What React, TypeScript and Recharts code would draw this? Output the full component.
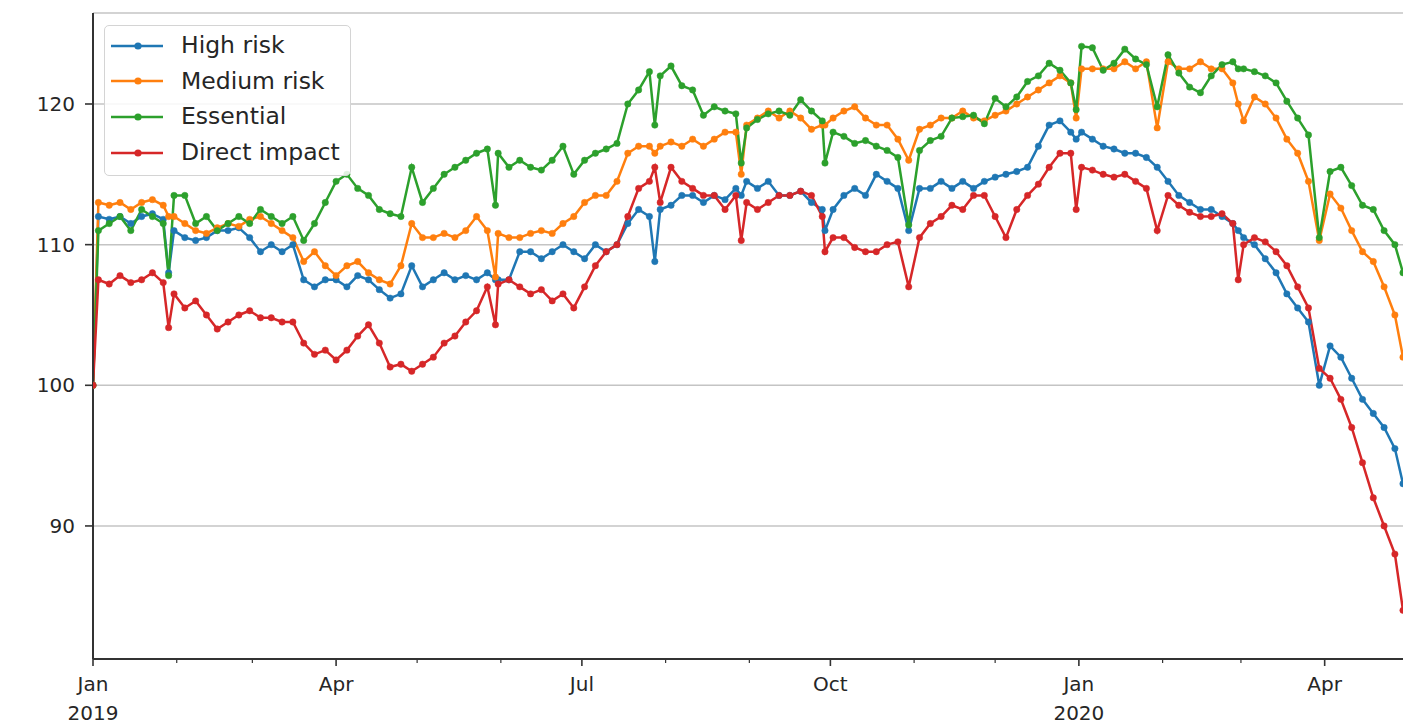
import React from "react";
import { LineChart, Line, XAxis, YAxis, CartesianGrid, Legend } from "recharts";

// days since 2019-01-01
const days = [
  0, 2, 6, 10, 14, 18, 22, 26, 28, 30, 34, 38, 42, 46, 50, 54, 58, 62, 66, 70,
  74, 78, 82, 86, 90, 94, 98, 102, 106, 110, 114, 118, 122, 126, 130, 134, 138, 142, 146, 149,
  150, 154, 158, 162, 166, 170, 174, 178, 182, 186, 190, 194, 198, 202, 206, 208, 210, 214, 218, 222,
  226, 230, 234, 238, 240, 242, 246, 250, 254, 258, 262, 266, 270, 271, 274, 278, 282, 286, 290, 294,
  298, 302, 306, 310, 314, 318, 322, 326, 330, 334, 338, 342, 346, 350, 354, 358, 362, 364, 366, 370,
  374, 378, 382, 386, 390, 394, 398, 402, 406, 410, 414, 418, 422, 424, 426, 430, 434, 438, 442, 446,
  450, 454, 458, 462, 466, 470, 474, 478, 482, 485,
];

const highRisk = [
  100, 112, 111.8, 112, 111.5, 112, 112.2, 111.8, 108, 111, 110.5, 110.3, 110.5, 111, 111, 111.2, 110.5, 109.5, 110, 109.5,
  110, 107.5, 107, 107.5, 107.5, 107, 107.8, 107.5, 106.8, 106.2, 106.5, 108.5, 107, 107.5, 108, 107.5, 107.8, 107.5, 108, 107.5,
  107.5, 107.5, 109.5, 109.5, 109, 109.5, 110, 109.5, 109, 110, 109.5, 110, 111.5, 112.5, 112, 108.8, 112.5, 112.8, 113.5, 113.5,
  113, 113.5, 113.2, 114, 113.5, 114.5, 114, 114.5, 113.5, 113.5, 113.8, 113, 112.5, 111, 112.5, 113.5, 114, 113.5, 115, 114.5,
  114, 111, 114, 114, 114.5, 114, 114.5, 114, 114.5, 114.8, 115, 115.2, 115.5, 117, 118.5, 118.8, 118, 117.5, 118, 117.5,
  117, 116.8, 116.5, 116.5, 116.2, 115.5, 114.5, 113.5, 113, 112.5, 112.5, 112, 111.5, 111, 110.5, 110, 109, 108, 106.5, 105.5,
  104.5, 100, 102.8, 102, 100.5, 99, 98, 97, 95.5, 93,
];

const mediumRisk = [
  100, 113, 112.8, 113, 112.5, 113, 113.2, 112.8, 112, 112, 111.5, 111, 110.8, 111.2, 111.5, 111.3, 111.8, 112, 111.5, 111,
  110.5, 108.8, 109.5, 108.5, 107.8, 108.5, 108.8, 108, 107.5, 107.2, 108.5, 111.5, 110.5, 110.5, 110.8, 110.5, 111, 112, 111, 107.7,
  110.8, 110.5, 110.5, 110.8, 111, 110.8, 111.5, 112, 113, 113.5, 113.5, 114.5, 116.5, 117, 117, 116.5, 117, 117.3, 117, 117.5,
  117, 117.5, 118, 118, 115, 118.5, 119, 119.5, 119, 119.5, 119, 118.2, 118.5, 118.5, 119, 119.5, 119.8, 119, 118.5, 118.5,
  117.5, 116, 118.2, 118.5, 119, 119, 119.5, 119, 118.8, 119.2, 119.5, 120, 120.5, 121, 121.5, 122, 121.5, 119, 122.5, 122.5,
  122.5, 122.5, 123, 122.5, 123, 118.3, 123, 122.5, 122.5, 123, 122.5, 122.5, 121.5, 120, 118.8, 120.5, 120, 119, 117.5, 116.5,
  114.5, 110.3, 113.6, 112.6, 111, 109.5, 108.8, 107, 105, 102,
];

const essential = [
  100, 111, 111.5, 112, 111, 112.5, 112, 111.5, 107.8, 113.5, 113.5, 111.5, 112, 111, 111.5, 112, 111.5, 112.5, 112, 111.5,
  112, 110.3, 111.5, 113, 114.5, 115, 114, 113.5, 112.5, 112.2, 112, 115.5, 113, 114, 115, 115.5, 116, 116.5, 116.8, 112.8,
  116.5, 115.5, 116, 115.5, 115.3, 116, 117, 115, 116, 116.5, 116.8, 117.2, 120, 121, 122.3, 118.5, 122, 122.7, 121.3, 121,
  119.2, 119.8, 119.5, 119.3, 115.8, 118.3, 118.9, 119.3, 119.5, 119.2, 120.3, 119.5, 118.8, 115.8, 118, 117.7, 117.2, 117.4, 117, 116.7,
  116.2, 111.4, 116.7, 117.4, 117.7, 119, 119.1, 119.2, 118.6, 120.4, 119.8, 120.5, 121.6, 122, 122.9, 122.4, 121.5, 119.6, 124.1, 124,
  122.4, 122.9, 123.9, 123.2, 122.8, 119.8, 123.5, 122.2, 121.2, 120.8, 122, 122.8, 123, 122.5, 122.5, 122.3, 122, 121.5, 120.2, 119,
  117.8, 110.5, 115.2, 115.5, 114.2, 112.8, 112.5, 111, 110, 108,
];

const directImpact = [
  100, 107.5, 107.2, 107.8, 107.3, 107.5, 108, 107.3, 104.1, 106.5, 105.5, 106, 105, 104, 104.5, 105, 105.3, 104.8, 104.8, 104.5,
  104.5, 103, 102.2, 102.5, 101.8, 102.5, 103.5, 104.3, 103, 101.3, 101.5, 101, 101.5, 102, 103, 103.5, 104.5, 105.3, 107, 104.3,
  107.2, 107.5, 107, 106.5, 106.8, 106, 106.5, 105.5, 107, 108.5, 109.5, 110, 112, 114, 114.5, 115.5, 113, 115.5, 114.5, 114,
  113.5, 113.5, 112.5, 113.5, 110.3, 113, 112.5, 113, 113.5, 113.5, 113.8, 113.5, 112, 109.5, 110.5, 110.5, 109.8, 109.5, 109.5, 110,
  110.2, 107, 110.5, 111.5, 112, 112.8, 112.5, 113.5, 113.5, 112, 110.5, 112.5, 113.5, 114.3, 115.5, 116.5, 116.5, 112.5, 115.5, 115.3,
  115, 114.8, 115, 114.5, 114, 111, 113.5, 112.8, 112.3, 112, 112, 112.2, 111.5, 107.5, 110, 110.5, 110.2, 109.5, 108.5, 107,
  105.5, 101.2, 100.5, 99, 97, 94.5, 92, 90, 88, 84,
];

const seriesNames = ["High risk", "Medium risk", "Essential", "Direct impact"];
const seriesKeys = ["high", "medium", "essential", "direct"];
const seriesColors = ["#1f77b4", "#ff7f0e", "#2ca02c", "#d62728"];

const monthTicks = [0, 31, 59, 90, 120, 151, 181, 212, 243, 273, 304, 334, 365, 396, 425, 456];
const quarterTicks = [0, 90, 181, 273, 365, 456];
const quarterLabels = ["Jan\n2019", "Apr", "Jul", "Oct", "Jan\n2020", "Apr"];
const yTicks = [90, 100, 110, 120];

const FONT = "'DejaVu Sans', sans-serif";
const INK = "#262626";
const SPINE = "#333333";

const data = days.map((d, i) => ({
  day: d,
  high: highRisk[i],
  medium: mediumRisk[i],
  essential: essential[i],
  direct: directImpact[i],
}));

function DateTick(props: any) {
  const { x, y, payload } = props;
  const i = quarterTicks.indexOf(payload.value);
  const major = i >= 0;
  return (
    <g>
      <line
        x1={x}
        x2={x}
        y1={y}
        y2={y + (major ? 7 : 4)}
        stroke={SPINE}
        strokeWidth={major ? 1.6 : 1.2}
      />
      {major &&
        quarterLabels[i].split("\n").map((t, j) => (
          <text
            key={j}
            x={x}
            y={y + 32 + j * 29}
            textAnchor="middle"
            fontSize={20}
            fontFamily={FONT}
            fill={INK}
          >
            {t}
          </text>
        ))}
    </g>
  );
}

function LegendBox() {
  return (
    <div
      style={{
        background: "rgba(255,255,255,0.85)",
        border: "1px solid #d4d4d4",
        borderRadius: 5,
        padding: "2px 10px 5px 6px",
        fontFamily: FONT,
        fontSize: 23.5,
        color: INK,
        lineHeight: 1,
      }}
    >
      {seriesNames.map((name, i) => (
        <div key={name} style={{ display: "flex", alignItems: "center", height: 35.6 }}>
          <svg width={52} height={12} style={{ marginRight: 18 }}>
            <line x1={0} x2={52} y1={6} y2={6} stroke={seriesColors[i]} strokeWidth={2.4} />
            <circle cx={27} cy={6} r={3.6} fill={seriesColors[i]} />
          </svg>
          <span>{name}</span>
        </div>
      ))}
    </div>
  );
}

export default function App() {
  return (
    <div style={{ position: "absolute", left: 0, top: 0, background: "#fff" }}>
      <LineChart width={1403} height={728} data={data} margin={{ top: 13, right: 0, bottom: 0, left: 0 }}>
        <CartesianGrid vertical={false} stroke="#c4c4c4" strokeWidth={1.5} />
        <XAxis
          dataKey="day"
          type="number"
          domain={[0, 485]}
          ticks={monthTicks}
          interval={0}
          tick={<DateTick />}
          tickLine={false}
          tickSize={0}
          tickMargin={0}
          height={69}
          allowDataOverflow
          axisLine={{ stroke: SPINE, strokeWidth: 2 }}
        />
        <XAxis
          xAxisId="top"
          orientation="top"
          dataKey="day"
          type="number"
          domain={[0, 485]}
          height={0}
          tick={false}
          tickLine={false}
          axisLine={{ stroke: SPINE, strokeWidth: 2 }}
        />
        <YAxis
          type="number"
          domain={[80.54, 126.47]}
          ticks={yTicks}
          allowDataOverflow
          width={93}
          tickSize={8}
          tickMargin={10}
          tick={{ fontSize: 20, fontFamily: FONT, fill: INK }}
          tickLine={{ stroke: SPINE, strokeWidth: 1.6 }}
          axisLine={{ stroke: SPINE, strokeWidth: 2 }}
        />
        <Legend
          layout="vertical"
          align="center"
          verticalAlign="middle"
          content={<LegendBox />}
          wrapperStyle={{ left: 104, top: 25, width: "auto", height: "auto" }}
        />
        {seriesKeys.map((k, i) => (
          <Line
            key={k}
            type="linear"
            dataKey={k}
            name={seriesNames[i]}
            stroke={seriesColors[i]}
            strokeWidth={2.5}
            dot={{ r: 3.2, fill: seriesColors[i], stroke: seriesColors[i], strokeWidth: 0.5 }}
            activeDot={false}
            isAnimationActive={false}
          />
        ))}
      </LineChart>
    </div>
  );
}
